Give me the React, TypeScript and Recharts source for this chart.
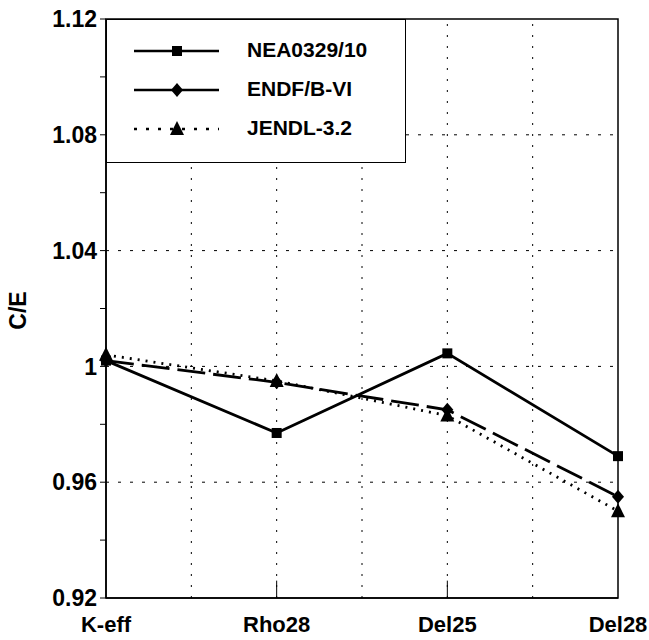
import React from 'react'
import { LineChart, Line, XAxis, YAxis, ReferenceLine, ReferenceArea } from 'recharts'

const categories = ['K-eff', 'Rho28', 'Del25', 'Del28']
const neaValues = [1.002, 0.977, 1.0045, 0.969]
const endfValues = [1.002, 0.9945, 0.985, 0.955]
const jendlValues = [1.004, 0.995, 0.983, 0.95]

const yTicks = [0.92, 0.94, 0.96, 0.98, 1.0, 1.02, 1.04, 1.06, 1.08, 1.1, 1.12]
const yLabels = [0.92, 0.96, 1.0, 1.04, 1.08, 1.12]
const gridY = [0.96, 1.0, 1.04, 1.08]
const gridX = [0.5, 1, 1.5, 2, 2.5]
const innerTicksX = [1, 2]

const data = categories.map((name, i) => ({
  x: i,
  name,
  nea: neaValues[i],
  endf: endfValues[i],
  jendl: jendlValues[i],
}))

const FONT = '"Liberation Sans", Arial, sans-serif'

function Marker({ shape, cx, cy }: { shape: string; cx: number; cy: number }) {
  if (cx == null || cy == null) return null
  if (shape === 'square') {
    return <rect x={cx - 5} y={cy - 5} width={10} height={10} fill="#000" />
  }
  if (shape === 'diamond') {
    return <polygon points={`${cx},${cy - 7} ${cx + 6},${cy} ${cx},${cy + 7} ${cx - 6},${cy}`} fill="#000" />
  }
  return <polygon points={`${cx},${cy - 8} ${cx + 7},${cy + 6} ${cx - 7},${cy + 6}`} fill="#000" />
}

const series = [
  { key: 'nea', name: 'NEA0329/10', dash: undefined, legendDash: undefined, shape: 'square' },
  { key: 'endf', name: 'ENDF/B-VI', dash: '28 8', legendDash: undefined, shape: 'diamond' },
  { key: 'jendl', name: 'JENDL-3.2', dash: '2 6', legendDash: '3 9', shape: 'triangle' },
]

const fmtY = (v: number) => {
  const hit = yLabels.some((l) => Math.abs(l - v) < 1e-6)
  return hit ? String(Number(v.toFixed(2))) : ''
}

export default function App() {
  return (
    <div style={{ position: 'absolute', left: 0, top: 0, width: 649, height: 640, background: '#fff', fontFamily: FONT }}>
      <LineChart
        width={649}
        height={640}
        data={data}
        margin={{ top: 19, right: 31, bottom: 0, left: 0 }}
        style={{ fontFamily: FONT }}
      >
        <XAxis
          dataKey="x"
          type="number"
          domain={[0, 3]}
          ticks={[0, 1, 2, 3]}
          tickFormatter={(v: number) => categories[v] ?? ''}
          height={42}
          tickLine={false}
          tickMargin={12}
          axisLine={{ stroke: '#000', strokeWidth: 1.5 }}
          tick={{ fill: '#000', fontSize: 22, fontWeight: 'bold' }}
          interval={0}
        />
        <YAxis
          type="number"
          domain={[0.92, 1.12]}
          ticks={yTicks}
          tickFormatter={fmtY}
          width={106}
          tickSize={6}
          tickMargin={3}
          interval={0}
          axisLine={{ stroke: '#000', strokeWidth: 1.5 }}
          tickLine={{ stroke: '#000' }}
          tick={{ fill: '#000', fontSize: 23, fontWeight: 'bold' }}
          label={{
            value: 'C/E',
            angle: -90,
            position: 'center',
            dx: -35,
            dy: 2,
            style: { fill: '#000', fontSize: 23, fontWeight: 'bold' },
          }}
        />
        {gridY.map((v) => (
          <ReferenceLine key={'gy' + v} y={v} stroke="#000" strokeDasharray="3 9" strokeWidth={1} />
        ))}
        {gridX.map((v) => (
          <ReferenceLine key={'gx' + v} x={v} stroke="#000" strokeDasharray="2 9" strokeWidth={1} />
        ))}
        {innerTicksX.map((v) => (
          <ReferenceLine
            key={'tx' + v}
            segment={[
              { x: v, y: 0.92 },
              { x: v, y: 0.926 },
            ]}
            stroke="#000"
            strokeWidth={1}
          />
        ))}
        <ReferenceArea x1={0} x2={3} y1={0.92} y2={1.12} stroke="#000" strokeWidth={1.5} fill="none" fillOpacity={0} />
        {series.map((s) => (
          <Line
            key={s.key}
            dataKey={s.key}
            name={s.name}
            type="linear"
            stroke="#000"
            strokeWidth={2.8}
            strokeDasharray={s.dash}
            isAnimationActive={false}
            dot={(p: any) => <Marker key={s.key + p.index} shape={s.shape} cx={p.cx} cy={p.cy} />}
            activeDot={false}
          />
        ))}
      </LineChart>
      <div
        style={{
          position: 'absolute',
          left: 106,
          top: 19,
          width: 300,
          height: 144,
          background: '#fff',
          border: '1.5px solid #000',
          boxSizing: 'border-box',
        }}
      >
        <svg width={297} height={141}>
          {series.map((s, i) => {
            const y = 31 + i * 39
            return (
              <g key={s.key}>
                <line x1={27} x2={112} y1={y} y2={y} stroke="#000" strokeWidth={2.5} strokeDasharray={s.legendDash} />
                <Marker shape={s.shape} cx={70} cy={y} />
                <text x={140} y={y} dominantBaseline="middle" fontSize={21} fontWeight="bold" fill="#000" fontFamily={FONT}>
                  {s.name}
                </text>
              </g>
            )
          })}
        </svg>
      </div>
    </div>
  )
}
